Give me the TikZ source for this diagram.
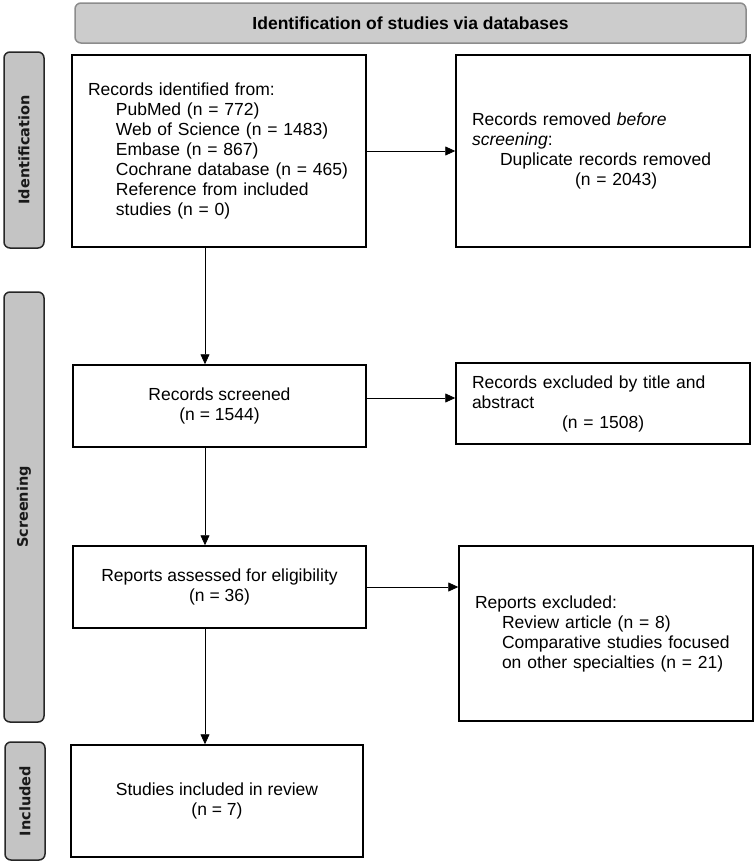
\documentclass[tikz,border=0pt]{standalone}
\usepackage{fontspec}
\setmainfont{Liberation Sans}
\newfontfamily\phasefont{DejaVu Sans}
\usetikzlibrary{positioning,arrows.meta,calc}

\begin{document}
\begin{tikzpicture}[x=1pt,y=-1pt,
  box/.style={rectangle, draw=black, line width=1.5pt, inner ysep=0pt,
    font=\fontsize{17.5}{20}\selectfont},
  lbox/.style={box, align=left, inner xsep=16pt, text width=262pt},
  cbox/.style={box, align=center},
  phase/.style={rectangle, rounded corners=6pt, draw=black!85, line width=1.5pt,
    fill=black!23, text=black!90, rotate=90, inner sep=0pt,
    font=\phasefont\bfseries\fontsize{14.5}{16}\selectfont},
  flow/.style={-{Triangle[length=10pt,width=9pt]}, line width=0.8pt}]
  \useasboundingbox (0,0) rectangle (754,863);
  % header and phases
  \node (head) at (410.5,23) [rectangle, rounded corners=6pt, draw=black!45, line width=1.5pt,
    fill=black!20, minimum width=671pt, minimum height=40pt,
    font=\bfseries\fontsize{17.5}{20}\selectfont] {Identification of studies via databases};
  \node (idbar) at (24,150) [phase, minimum width=196pt, minimum height=40pt] {Identification};
  \node (scrbar) at (24,507) [phase, minimum width=430pt, minimum height=40pt] {Screening};
  \node (incbar) at (25,801) [phase, minimum width=118pt, minimum height=40pt] {Included};
  % boxes
  \node (ident) at (219,151) [lbox, minimum width=292pt, minimum height=192pt]
    {Records identified from:\\
     \hspace*{28pt}PubMed (n = 772)\\
     \hspace*{28pt}Web of Science (n = 1483)\\
     \hspace*{28pt}Embase (n = 867)\\
     \hspace*{28pt}Cochrane database (n = 465)\\
     \hspace*{28pt}Reference from included\\
     \hspace*{28pt}studies (n = 0)};
  \node (removed) at (603,151) [lbox, minimum width=294pt, minimum height=192pt]
    {Records removed \textit{before}\\
     \textit{screening}:\\
     \hspace*{28pt}Duplicate records removed\\
     \hspace*{103pt}(n = 2043)};
  \node (screened) at (219.5,406) [cbox, minimum width=293pt, minimum height=82pt]
    {Records screened\\(n = 1544)};
  \node (excl) at (603,403.5) [lbox, minimum width=294pt, minimum height=81pt]
    {Records excluded by title and\\
     abstract\\
     \hspace*{90pt}(n = 1508)};
  \node (assessed) at (219.5,587) [cbox, minimum width=293pt, minimum height=82pt]
    {Reports assessed for eligibility\\(n = 36)};
  \node (rexcl) at (606,633.5) [lbox, minimum width=292pt, minimum height=175pt]
    {Reports excluded:\\
     \hspace*{27pt}Review article (n = 8)\\
     \hspace*{27pt}Comparative studies focused\\
     \hspace*{27pt}on other specialties (n = 21)};
  \node (incl) at (217,801) [cbox, minimum width=292pt, minimum height=112pt]
    {Studies included in review\\(n = 7)};
  % connectors
  \coordinate (col) at (205,0);
  \coordinate (scrout) at ([yshift=8pt]screened.east);
  \path[flow]
    (ident) edge (removed)
    (ident.south -| col) edge (screened.north -| col)
    (scrout) edge (scrout -| excl.west)
    (screened.south -| col) edge (assessed.north -| col)
    (assessed.east) edge (assessed.east -| rexcl.west)
    (assessed.south -| col) edge (incl.north -| col);
\end{tikzpicture}
\end{document}
